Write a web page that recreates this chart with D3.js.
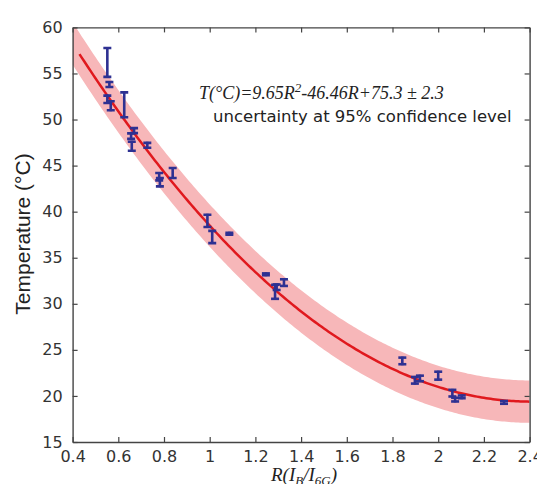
<!DOCTYPE html>
<html>
<head>
<meta charset="utf-8">
<script src="https://cdn.jsdelivr.net/npm/d3@7"></script>
<style>
  body { margin: 0; background: #fff; }
  svg { display: block; }
</style>
</head>
<body>
<svg id="chart" width="537" height="484"></svg>
<script>
// 1: DATA
const ratioR = [0.552, 0.561, 0.552, 0.567, 0.626, 0.669, 0.656, 0.659, 0.727, 0.779, 0.782, 0.838,
                0.990, 1.011, 1.086, 1.246, 1.286, 1.293, 1.325,
                1.843, 1.898, 1.920, 2.000, 2.062, 2.074, 2.103, 2.288];
const tempC  = [56.2, 53.8, 52.2, 51.5, 51.6, 48.8, 48.2, 47.1, 47.2, 43.8, 43.2, 44.2,
                39.0, 37.25, 37.6, 33.2, 31.3, 31.8, 32.3,
                23.8, 21.7, 21.9, 22.2, 20.3, 19.6, 19.9, 19.3];
const tempErr = [1.57, 0.27, 0.40, 0.49, 1.35, 0.27, 0.30, 0.49, 0.27, 0.40, 0.45, 0.54,
                 0.66, 0.66, 0.10, 0.10, 0.76, 0.30, 0.36,
                 0.36, 0.36, 0.30, 0.43, 0.36, 0.20, 0.15, 0.15];
const fitCoef = [9.65, -46.46, 75.3];   // a R^2 + b R + c
const fitBand = 2.3;
const fitStart = 0.43;
const xTicks = [0.4, 0.6, 0.8, 1, 1.2, 1.4, 1.6, 1.8, 2, 2.2, 2.4];
const yTicks = [15, 20, 25, 30, 35, 40, 45, 50, 55, 60];

const points = ratioR.map((r, i) => ({ r: r, t: tempC[i], e: tempErr[i] }));

// 2: SCALES
const plotL = 72.6, plotR = 529.6, plotT = 27.4, plotB = 442;
const x = d3.scaleLinear().domain([0.4, 2.4]).range([plotL, plotR]);
const y = d3.scaleLinear().domain([15, 60]).range([plotB, plotT]);

const svg = d3.select("#chart");
const fit = r => fitCoef[0] * r * r + fitCoef[1] * r + fitCoef[2];

svg.append("clipPath").attr("id", "plotClip")
  .append("rect").attr("x", plotL).attr("y", plotT)
  .attr("width", plotR - plotL).attr("height", plotB - plotT);

const plot = svg.append("g").attr("clip-path", "url(#plotClip)");

// 3: CONFIDENCE BAND + FIT
const bandR = d3.range(0.4, 2.4001, 0.01);
plot.append("path")
  .datum(bandR)
  .attr("fill", "#f7b7b9")
  .attr("d", d3.area()
    .x(r => x(r))
    .y0(r => y(fit(r) - fitBand))
    .y1(r => y(fit(r) + fitBand)));

const lineR = d3.range(fitStart, 2.4001, 0.01);
plot.append("path")
  .datum(lineR)
  .attr("fill", "none")
  .attr("stroke", "#e0191e")
  .attr("stroke-width", 2.5)
  .attr("d", d3.line().x(r => x(r)).y(r => y(fit(r))));

// 4: ERROR BARS
const bars = plot.selectAll("g.err").data(points).enter()
  .append("g").attr("class", "err")
  .attr("stroke", "#2e3192").attr("stroke-width", 2.6);

bars.append("line")
  .attr("x1", d => x(d.r)).attr("x2", d => x(d.r))
  .attr("y1", d => y(d.t - d.e) + 1).attr("y2", d => y(d.t + d.e) - 1);
bars.append("line")
  .attr("x1", d => x(d.r) - 4).attr("x2", d => x(d.r) + 4)
  .attr("y1", d => y(d.t + d.e)).attr("y2", d => y(d.t + d.e));
bars.append("line")
  .attr("x1", d => x(d.r) - 4).attr("x2", d => x(d.r) + 4)
  .attr("y1", d => y(d.t - d.e)).attr("y2", d => y(d.t - d.e));

// 5: AXES (box with inward ticks)
const axisColor = "#444";
const sans = "'DejaVu Sans', Verdana, sans-serif";
function styleAxis(g) {
  g.select(".domain").attr("stroke", axisColor).attr("stroke-width", 1.4);
  g.selectAll(".tick line").attr("stroke", axisColor).attr("stroke-width", 1.2);
  g.selectAll(".tick text")
    .attr("fill", "#333")
    .style("font-family", sans)
    .style("font-size", "16px");
}

svg.append("g")
  .attr("transform", `translate(0,${plotB})`)
  .call(d3.axisBottom(x).tickValues(xTicks).tickFormat(d3.format("~g"))
    .tickSizeInner(-5).tickSizeOuter(0).tickPadding(8.5))
  .call(styleAxis);

svg.append("g")
  .attr("transform", `translate(0,${plotT})`)
  .call(d3.axisTop(x).tickValues(xTicks).tickFormat("")
    .tickSizeInner(-5).tickSizeOuter(0))
  .call(styleAxis);

svg.append("g")
  .attr("transform", `translate(${plotL},0)`)
  .call(d3.axisLeft(y).tickValues(yTicks)
    .tickSizeInner(-5).tickSizeOuter(0).tickPadding(10))
  .call(styleAxis);

svg.append("g")
  .attr("transform", `translate(${plotR},0)`)
  .call(d3.axisRight(y).tickValues(yTicks).tickFormat("")
    .tickSizeInner(-5).tickSizeOuter(0))
  .call(styleAxis);

// 6: LABELS
svg.append("text")
  .attr("transform", "rotate(-90)")
  .attr("x", -234).attr("y", 30)
  .attr("text-anchor", "middle")
  .attr("fill", "#222")
  .style("font-family", "'Liberation Sans', Arial, sans-serif")
  .style("font-size", "21px")
  .text("Temperature (°C)");

const serif = "'Liberation Serif', 'Times New Roman', serif";

const xLabel = svg.append("text")
  .attr("x", 304).attr("y", 480.5)
  .attr("text-anchor", "middle")
  .attr("fill", "#222")
  .style("font-family", serif)
  .style("font-style", "italic")
  .style("font-size", "19px");
xLabel.append("tspan").text("R(I");
xLabel.append("tspan").attr("dy", 4).style("font-size", "13px").text("B");
xLabel.append("tspan").attr("dy", -4).text("/I");
xLabel.append("tspan").attr("dy", 4).style("font-size", "13px").text("6G");
xLabel.append("tspan").attr("dy", -4).text(")");

const eq = svg.append("text")
  .attr("x", 199).attr("y", 99)
  .attr("fill", "#222")
  .style("font-family", serif)
  .style("font-style", "italic")
  .style("font-size", "18px");
eq.append("tspan").text("T(°C)=9.65R");
eq.append("tspan").attr("dy", -7).style("font-size", "13px").text("2");
eq.append("tspan").attr("dy", 7).text("-46.46R+75.3 ± 2.3");

svg.append("text")
  .attr("x", 213).attr("y", 122)
  .attr("fill", "#222")
  .style("font-family", sans)
  .style("font-size", "16.5px")
  .text("uncertainty at 95% confidence level");
</script>
</body>
</html>
